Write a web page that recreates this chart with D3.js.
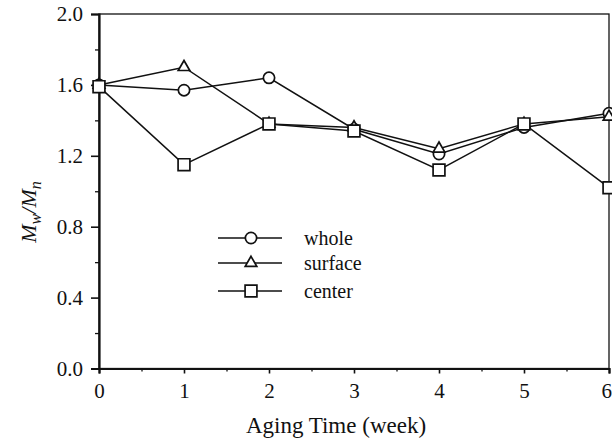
<!DOCTYPE html>
<html>
<head>
<meta charset="utf-8">
<script src="https://cdn.jsdelivr.net/npm/d3@7"></script>
<style>
  html, body { margin: 0; padding: 0; background: #fff; }
  svg { display: block; }
  text { font-family: "Liberation Serif", "Times New Roman", serif; fill: #111; }
</style>
</head>
<body>
<script>
// Molecular weight distribution (Mw/Mn) versus aging time
const weeks = [0, 1, 2, 3, 4, 5, 6];
const whole = [1.60, 1.57, 1.64, 1.35, 1.21, 1.36, 1.44];
const surface = [1.60, 1.70, 1.38, 1.36, 1.24, 1.38, 1.42];
const center = [1.59, 1.15, 1.38, 1.34, 1.12, 1.38, 1.02];
const yTicks = [0.0, 0.4, 0.8, 1.2, 1.6, 2.0];
const xTicks = [0, 1, 2, 3, 4, 5, 6];
const seriesNames = ["whole", "surface", "center"];
const seriesSymbols = ["circle", "triangle", "square"];

const W = 612, H = 439;
const plotLeft = 99, plotRight = 609, plotTop = 14, plotBottom = 368.5;

const svg = d3.select("body").append("svg").attr("width", W).attr("height", H);

const x = d3.scaleLinear().domain([0, 6]).range([plotLeft, plotRight]);
const y = d3.scaleLinear().domain([0, 2]).range([plotBottom, plotTop]);

const ink = "#111";

// frame
svg.append("rect")
  .attr("x", plotLeft).attr("y", plotTop)
  .attr("width", plotRight - plotLeft).attr("height", plotBottom - plotTop)
  .attr("fill", "none").attr("stroke", ink).attr("stroke-width", 1.3);

// y axis
const yAxis = d3.axisLeft(y).tickValues(yTicks).tickFormat(d3.format(".1f")).tickSize(8).tickPadding(8);
const gy = svg.append("g").attr("transform", `translate(${plotLeft},0)`).call(yAxis);
gy.select(".domain").attr("stroke", ink).attr("stroke-width", 2.2);
gy.selectAll(".tick line").attr("stroke", ink).attr("stroke-width", 1.6);
gy.selectAll(".tick text").style("font-size", "21px").attr("fill", ink)
  .style("font-family", "'Liberation Serif', serif");

// minor y ticks
const yMinor = d3.axisLeft(y).tickValues(d3.range(0.2, 2.0, 0.4)).tickSize(4).tickFormat("");
const gym = svg.append("g").attr("transform", `translate(${plotLeft},0)`).call(yMinor);
gym.select(".domain").remove();
gym.selectAll(".tick line").attr("stroke", ink).attr("stroke-width", 1.3);

// x axis
const xAxis = d3.axisBottom(x).tickValues(xTicks).tickFormat(d3.format("d")).tickSize(5).tickPadding(10);
const gx = svg.append("g").attr("transform", `translate(0,${plotBottom})`).call(xAxis);
gx.select(".domain").attr("stroke", ink).attr("stroke-width", 2.2);
gx.selectAll(".tick line").attr("stroke", ink).attr("stroke-width", 1.6);
gx.selectAll(".tick text").style("font-size", "21px").attr("fill", ink)
  .style("font-family", "'Liberation Serif', serif");
// keep the last tick label inside the page edge
gx.selectAll(".tick text").filter(d => d === 6).attr("text-anchor", "end").attr("x", W - plotRight - 0.5);

// minor x ticks
const xMinor = d3.axisBottom(x).tickValues(d3.range(0.5, 6, 1)).tickSize(3).tickFormat("");
const gxm = svg.append("g").attr("transform", `translate(0,${plotBottom})`).call(xMinor);
gxm.select(".domain").remove();
gxm.selectAll(".tick line").attr("stroke", ink).attr("stroke-width", 1.3);

// axis titles
svg.append("text")
  .attr("x", 336).attr("y", 433)
  .attr("text-anchor", "middle")
  .style("font-size", "23px")
  .text("Aging Time (week)");

const yt = svg.append("text")
  .attr("transform", `translate(36,212) rotate(-90)`)
  .attr("text-anchor", "middle")
  .style("font-size", "22px")
  .style("font-style", "italic");
yt.append("tspan").text("M");
yt.append("tspan").attr("dy", 5).style("font-size", "16px").text("w");
yt.append("tspan").attr("dy", -5).text("/M");
yt.append("tspan").attr("dy", 5).style("font-size", "16px").text("n");

// symbols
const symbolGen = {
  circle: d3.symbol().type(d3.symbolCircle).size(100),
  triangle: d3.symbol().type(d3.symbolTriangle).size(58),
  square: d3.symbol().type(d3.symbolSquare).size(140)
};

function drawMarker(g, kind, cx, cy) {
  g.append("path")
    .attr("d", symbolGen[kind]())
    .attr("transform", `translate(${cx},${cy})`)
    .attr("fill", "#fff")
    .attr("stroke", ink)
    .attr("stroke-width", 1.7);
}

const line = d3.line().x((d, i) => x(weeks[i])).y(d => y(d));
const data = [whole, surface, center];

const plot = svg.append("g");
data.forEach(vals => {
  plot.append("path")
    .attr("d", line(vals))
    .attr("fill", "none")
    .attr("stroke", ink)
    .attr("stroke-width", 1.5);
});
data.forEach((vals, si) => {
  vals.forEach((v, i) => drawMarker(plot, seriesSymbols[si], x(weeks[i]), y(v)));
});

// legend
const legY = [238, 263, 291];
const lg = svg.append("g");
seriesNames.forEach((name, i) => {
  lg.append("line")
    .attr("x1", 218).attr("x2", 282)
    .attr("y1", legY[i]).attr("y2", legY[i])
    .attr("stroke", ink).attr("stroke-width", 1.5);
  drawMarker(lg, seriesSymbols[i], 251, legY[i]);
  lg.append("text")
    .attr("x", 304).attr("y", legY[i] + 7)
    .style("font-size", "20px")
    .text(name);
});
</script>
</body>
</html>
